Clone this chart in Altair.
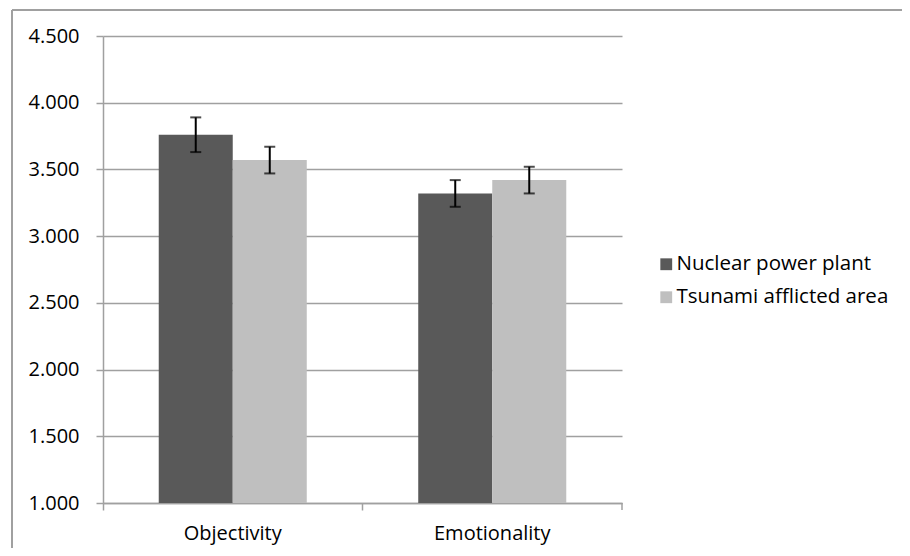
import altair as alt
import pandas as pd

categories = ["Objectivity", "Emotionality"]
series = ["Nuclear power plant", "Tsunami afflicted area"]
nuclear = [3.76, 3.32]
tsunami = [3.57, 3.42]
nuclear_err = [0.13, 0.10]
tsunami_err = [0.10, 0.10]
colors = ["#595959", "#BFBFBF"]
y_ticks = [1.0, 1.5, 2.0, 2.5, 3.0, 3.5, 4.0, 4.5]

rows = []
for i, c in enumerate(categories):
    rows.append({"cat": c, "series": series[0], "value": nuclear[i],
                 "lo": nuclear[i] - nuclear_err[i], "hi": nuclear[i] + nuclear_err[i]})
    rows.append({"cat": c, "series": series[1], "value": tsunami[i],
                 "lo": tsunami[i] - tsunami_err[i], "hi": tsunami[i] + tsunami_err[i]})
df = pd.DataFrame(rows)

FONT = "Open Sans"
W, H = 519, 467

xscale = alt.Scale(domain=categories, paddingInner=0, paddingOuter=0)
xoff = alt.Scale(domain=series, paddingInner=0, paddingOuter=0.753)
yscale = alt.Scale(domain=[1.0, 4.5], nice=False, zero=False)

base = alt.Chart(df)

bars = base.mark_bar(size=74).encode(
    x=alt.X("cat:N", scale=xscale, sort=categories,
            axis=alt.Axis(title=None, labelAngle=0, bandPosition=0, labelPadding=13,
                          labelBound=False)),
    xOffset=alt.XOffset("series:N", scale=xoff, sort=series),
    y=alt.Y("value:Q", scale=yscale,
            axis=alt.Axis(title=None, values=y_ticks, format=".3f", grid=True,
                          labelPadding=17)),
    y2=alt.Y2(datum=1.0),
    color=alt.Color("series:N", sort=series, scale=alt.Scale(domain=series, range=colors),
                    legend=alt.Legend(title=None, orient="none", legendX=553, legendY=218,
                                      symbolType="square", symbolSize=140,
                                      symbolStrokeWidth=0, labelFontSize=20.5,
                                      labelFont=FONT, labelColor="#000000",
                                      labelLimit=400, rowPadding=12, labelOffset=0)),
)

errs = base.mark_errorbar(ticks=alt.MarkConfig(size=11), color="#000000", thickness=2).encode(
    x=alt.X("cat:N", scale=xscale, sort=categories),
    xOffset=alt.XOffset("series:N", scale=xoff, sort=series),
    y=alt.Y("lo:Q", scale=yscale, title=None),
    y2="hi:Q",
)

right_tick = alt.Chart(pd.DataFrame({"a": [0]})).mark_rule(
    color="#A0A0A0", strokeWidth=1.5).encode(
    x=alt.value(W), y=alt.value(H), y2=alt.value(H + 7))

frame_top = alt.Chart(pd.DataFrame({"a": [0]})).mark_rule(
    color="#A0A0A0", strokeWidth=2, clip=False).encode(
    x=alt.value(-91), x2=alt.value(820), y=alt.value(-26))
frame_left = alt.Chart(pd.DataFrame({"a": [0]})).mark_rule(
    color="#A0A0A0", strokeWidth=2, clip=False).encode(
    x=alt.value(-91), y=alt.value(-26), y2=alt.value(560))

chart = alt.layer(bars, errs, right_tick, frame_top, frame_left).properties(
    width=W, height=H,
    autosize=alt.AutoSizeParams(type="none"),
    padding={"left": 95, "top": 28, "right": 280, "bottom": 45},
    background="#FFFFFF",
).configure_view(stroke=None).configure_axis(
    labelFontSize=20, labelFont=FONT, labelColor="#000000",
    gridColor="#A0A0A0", gridWidth=1.5, domainColor="#A0A0A0", domainWidth=1.5,
    tickColor="#A0A0A0", tickWidth=1.5, tickSize=7,
)

chart.save("out.html", embed_options={"renderer": "svg", "actions": False})
